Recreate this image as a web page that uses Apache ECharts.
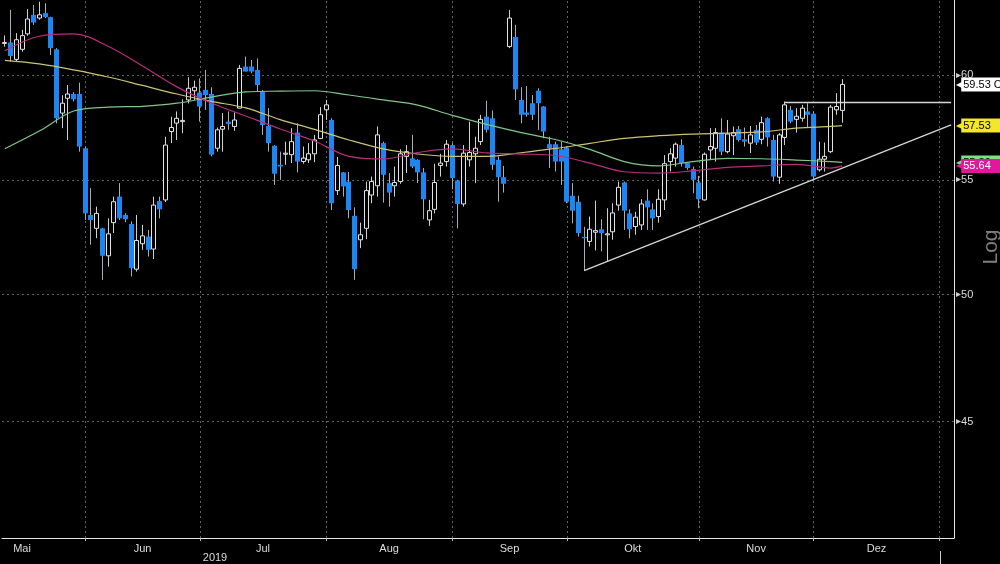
<!DOCTYPE html>
<html><head><meta charset="utf-8">
<script src="https://cdn.jsdelivr.net/npm/echarts@6/dist/echarts.min.js"></script>
<style>html,body{margin:0;padding:0;background:#000}#c{width:1000px;height:564px}</style>
</head><body><div id="c"></div>
<script>
// ---- calendar (US trading days, future slots = weekdays) ----
const startDate = '2019-05-13';
const endDate = '2020-01-03';
const holidays = ['2019-05-27', '2019-07-04', '2019-09-02', '2019-11-28'];
const labelMonthKeys = ['2019-05', '2019-06', '2019-07', '2019-08', '2019-09', '2019-10', '2019-11', '2019-12', '2020-01'];
const monthLabels = ['Mai', 'Jun', 'Jul', 'Aug', 'Sep', 'Okt', 'Nov', 'Dez'];
const gridMonthKeys = ['2019-06', '2019-07', '2019-08', '2019-09', '2019-10', '2019-11', '2019-12', '2020-01'];
const yearLabel = '2019';

// ---- price data (daily OHLC) ----
const opens = [
61.60, 61.64, 60.78, 61.29, 62.08, 63.07, 62.90, 63.16, 62.95, 61.29,
58.13, 58.85, 59.06, 59.06, 56.46, 53.42, 52.83, 52.83, 51.64, 53.08,
54.24, 53.42, 53.02, 51.07, 52.16, 52.47, 51.93, 54.04, 54.09, 57.25,
57.65, 57.72, 58.77, 59.22, 59.13, 59.26, 59.06, 56.46, 57.36, 57.72,
57.49, 58.37, 60.42, 60.42, 60.25, 59.17, 57.51, 56.58, 55.69, 56.18,
56.16, 57.20, 55.84, 55.92, 56.20, 56.92, 58.29, 57.80, 54.51, 55.34,
54.92, 53.38, 52.33, 52.83, 54.31, 54.73, 56.70, 54.85, 54.73, 54.92,
56.08, 55.99, 55.92, 55.34, 53.20, 53.67, 55.66, 55.84, 56.61, 54.97,
53.91, 55.92, 56.20, 56.77, 57.96, 57.88, 55.92, 55.12, 61.43, 61.92,
58.77, 58.16, 58.61, 59.22, 58.45, 56.65, 56.65, 56.41, 56.49, 54.28,
54.01, 52.46, 52.26, 52.66, 52.79, 52.55, 52.68, 53.86, 54.88, 53.49,
52.91, 52.98, 54.06, 53.67, 53.35, 54.09, 55.84, 56.00, 56.61, 55.77,
55.49, 54.88, 54.09, 56.38, 56.46, 57.20, 56.30, 57.05, 57.36, 56.88,
56.70, 57.33, 56.88, 57.88, 56.85, 55.12, 56.97, 58.29, 57.83, 57.88,
58.21, 58.10, 55.46, 55.95, 56.30, 58.29, 58.26];
const closes = [
61.64, 60.95, 61.78, 61.99, 62.85, 62.67, 63.07, 62.95, 61.35, 57.88,
58.61, 59.06, 58.80, 56.54, 53.49, 53.20, 53.49, 51.64, 52.59, 54.01,
53.27, 53.23, 51.11, 52.30, 52.50, 51.90, 53.86, 53.67, 56.61, 57.44,
57.88, 57.78, 59.34, 59.39, 58.45, 59.01, 56.16, 57.33, 57.49, 57.61,
57.80, 60.33, 60.17, 60.17, 59.50, 57.56, 56.70, 55.28, 55.61, 56.23,
56.77, 55.84, 56.00, 56.20, 56.85, 58.05, 58.53, 53.94, 55.66, 54.70,
53.64, 51.07, 52.55, 54.51, 54.92, 57.09, 55.23, 54.42, 54.88, 56.20,
56.30, 55.61, 55.34, 54.12, 53.61, 54.88, 55.77, 56.65, 55.08, 53.91,
56.23, 56.26, 56.46, 57.83, 57.33, 55.69, 55.12, 54.82, 62.90, 59.29,
58.05, 58.05, 58.05, 58.61, 57.25, 56.46, 55.84, 55.84, 54.01, 53.61,
52.62, 52.42, 52.79, 52.73, 52.62, 52.59, 53.51, 54.66, 53.61, 52.79,
53.32, 53.91, 53.76, 53.27, 54.12, 55.74, 56.20, 56.65, 55.77, 55.54,
55.00, 54.12, 56.18, 56.54, 57.20, 56.30, 57.13, 57.20, 56.85, 56.77,
57.09, 56.73, 57.67, 56.97, 55.15, 57.09, 58.53, 57.72, 57.98, 58.37,
58.05, 55.15, 55.95, 56.08, 58.42, 58.45, 59.53];
const lows = [
61.42, 60.66, 60.66, 61.17, 61.99, 62.55, 62.81, 62.90, 61.00, 57.64,
57.41, 56.85, 58.70, 56.30, 53.20, 52.12, 52.40, 50.62, 51.18, 52.62,
53.20, 53.10, 50.76, 50.97, 51.90, 51.61, 51.50, 53.27, 54.00, 56.70,
56.85, 57.17, 58.60, 58.77, 57.72, 58.29, 56.08, 56.30, 56.30, 57.33,
57.28, 58.37, 60.17, 60.08, 59.17, 57.09, 56.30, 54.77, 55.00, 55.69,
55.77, 55.34, 55.74, 55.77, 55.81, 56.89, 57.80, 53.64, 54.31, 54.24,
53.27, 50.62, 51.97, 52.36, 53.94, 54.24, 53.97, 53.79, 54.24, 54.82,
55.31, 55.54, 54.85, 53.23, 52.94, 53.49, 55.15, 55.61, 54.57, 52.83,
53.79, 55.61, 54.85, 56.61, 57.20, 55.46, 54.01, 54.42, 61.35, 58.77,
57.64, 57.96, 57.80, 57.33, 56.93, 55.54, 55.38, 54.77, 53.94, 53.05,
52.47, 51.01, 52.04, 51.87, 51.83, 51.40, 52.33, 53.61, 52.76, 52.40,
52.55, 52.76, 52.76, 52.76, 53.08, 53.64, 55.38, 55.61, 55.61, 55.46,
54.39, 53.72, 54.06, 55.92, 55.84, 56.14, 56.22, 56.14, 56.77, 56.54,
56.23, 56.61, 56.65, 56.54, 54.92, 54.82, 56.61, 57.64, 57.20, 57.72,
57.41, 55.00, 55.38, 55.38, 56.23, 58.05, 57.67];
const highs = [
62.00, 63.33, 62.12, 62.29, 63.37, 63.59, 63.76, 63.68, 62.97, 61.35,
59.00, 59.50, 59.15, 59.62, 56.54, 54.62, 53.79, 52.85, 53.27, 54.24,
54.85, 53.50, 53.13, 53.42, 52.98, 52.76, 54.24, 54.24, 57.00, 57.96,
58.21, 58.80, 59.89, 59.72, 59.83, 60.25, 59.39, 57.44, 58.13, 58.21,
58.16, 60.50, 60.92, 60.75, 60.83, 59.26, 58.37, 56.60, 56.30, 56.77,
57.41, 57.64, 56.54, 56.70, 57.09, 58.42, 58.77, 57.88, 56.05, 55.36,
55.36, 53.76, 53.08, 54.92, 55.15, 57.49, 56.77, 55.31, 55.61, 56.41,
56.61, 57.09, 55.95, 55.54, 54.09, 55.74, 56.20, 56.85, 56.70, 55.00,
56.61, 57.72, 57.00, 58.05, 58.73, 58.26, 56.08, 55.64, 63.33, 62.55,
59.39, 59.45, 59.01, 59.34, 58.47, 57.00, 56.77, 56.77, 56.54, 54.85,
54.28, 52.90, 53.35, 54.06, 53.23, 53.72, 53.94, 54.92, 54.92, 53.67,
53.56, 54.12, 54.57, 53.94, 54.57, 56.14, 56.46, 56.73, 56.88, 55.80,
55.61, 55.18, 56.26, 57.41, 57.41, 57.88, 57.80, 57.49, 57.51, 57.44,
57.51, 57.56, 57.96, 57.93, 57.09, 57.17, 58.69, 58.47, 58.37, 58.53,
58.61, 58.21, 56.77, 56.73, 58.53, 59.10, 59.79];

// ---- moving averages, read at these slots ----
const maSlots = [0, 6, 12, 18, 24, 30, 36, 42, 48, 54, 60, 66, 72, 78, 84, 90, 96, 102, 108, 114, 120, 126, 132, 138, 144, 146];
const maMagenta = [61.22, 61.96, 62.08, 61.45, 60.45, 59.41, 58.62, 57.99, 57.37, 56.80, 56.08, 55.96, 56.26, 56.43, 56.24, 56.19, 56.12, 55.77, 55.37, 55.31, 55.41, 55.57, 55.64, 55.71, 55.54, 55.64];
const maYellow = [60.73, 60.55, 60.25, 59.90, 59.48, 59.06, 58.70, 58.38, 57.82, 57.35, 56.85, 56.43, 56.19, 56.08, 56.08, 56.25, 56.45, 56.69, 56.92, 57.05, 57.13, 57.17, 57.23, 57.41, 57.49, 57.53];
const maGreen = [56.44, 57.27, 58.23, 58.42, 58.46, 58.61, 58.91, 59.16, 59.20, 59.22, 59.01, 58.77, 58.52, 58.02, 57.59, 57.20, 56.87, 56.41, 55.84, 55.64, 55.84, 55.99, 55.97, 55.91, 55.84, 55.80];

// ---- annotations ----
const yTicks = [45, 50, 55, 60];
const trendStart = [101, 51.01];
const trendEnd = [165, 57.57];
const resistStart = [136, 58.64];
const resistEnd = [165, 58.64];
const lastClose = 59.53;
const lastYellow = 57.53;
const lastMagenta = 55.64;
const lastGreen = 55.80;
const yMin = 40.86, yMax = 63.85;

// ---- build categories ----
const DAY = 86400000;
const toD = s => new Date(s + 'T00:00:00Z');
const fmt = d => d.toISOString().slice(0, 10);
const isTrading = d => { const w = d.getUTCDay(); return w !== 0 && w !== 6 && !holidays.includes(fmt(d)); };
const startUTC = toD(startDate), endUTC = toD(endDate);
const categories = [];
for (let t = startUTC.getTime(); t <= endUTC.getTime(); t += DAY) { const d = new Date(t); if (isTrading(d)) categories.push(fmt(d)); }
function slotOf(d) {
  let n = 0;
  if (d >= startUTC) { for (let t = startUTC.getTime(); t < d.getTime(); t += DAY) if (isTrading(new Date(t))) n++; return n; }
  for (let t = d.getTime(); t < startUTC.getTime(); t += DAY) if (isTrading(new Date(t))) n++; return -n;
}
function firstTrading(ym) { let d = toD(ym + '-01'); while (!isTrading(d)) d = new Date(d.getTime() + DAY); return d; }
const monthStartSlots = gridMonthKeys.map(k => slotOf(firstTrading(k)));
const tickSet = new Set(monthStartSlots);
const labelMap = new Map();
for (let m = 0; m < monthLabels.length; m++) {
  const a = slotOf(firstTrading(labelMonthKeys[m])), b = slotOf(firstTrading(labelMonthKeys[m + 1]));
  const mid = (a + b) / 2;
  labelMap.set(Math.floor(mid), { text: monthLabels[m], half: mid !== Math.floor(mid) });
}
const candleData = opens.map((o, i) => [i, o, closes[i], lows[i], highs[i]]);
const pair = arr => maSlots.map((s, i) => [s, arr[i]]);

const FONT = 'Liberation Sans';
const chart = echarts.init(document.getElementById('c'), null, { renderer: 'canvas' });

function tag(value, text, bg, fg) {
  return {
    yAxis: value,
    lineStyle: { color: 'transparent', width: 0 },
    label: {
      show: true, position: 'end', distance: 2,
      formatter: '{p|◀}{t|' + text + '}',
      rich: {
        p: { color: bg, fontSize: 12, fontFamily: 'DejaVu Sans', padding: [0, -4, 0, 0] },
        t: { backgroundColor: bg, color: fg, fontSize: 11, fontFamily: FONT, padding: [2, 20, 1, 2] }
      }
    }
  };
}

chart.setOption({
  backgroundColor: '#000',
  animation: false,
  grid: { left: 2, right: 46, top: 0, bottom: 26, containLabel: false },
  xAxis: {
    type: 'category', data: categories, boundaryGap: true,
    axisLine: { show: true, lineStyle: { color: '#e6e6e6', width: 1 } },
    axisTick: { show: true, alignWithLabel: true, interval: i => tickSet.has(i), length: 3, lineStyle: { color: '#bbb' } },
    axisLabel: {
      interval: i => labelMap.has(i), color: '#dcdcdc', fontSize: 11, fontFamily: FONT, margin: 5,
      formatter: (v, i) => { const l = labelMap.get(i); if (!l) return ''; return l.half ? '{h|' + l.text + '}' : l.text; },
      rich: { h: { padding: [0, 0, 0, 5.7], color: '#dcdcdc', fontSize: 11, fontFamily: FONT } }
    },
    splitLine: { show: false }
  },
  yAxis: {
    type: 'log', logBase: 10, position: 'right', min: yMin, max: yMax, scale: true,
    axisLine: { show: true, lineStyle: { color: '#e6e6e6', width: 1 } },
    axisTick: { show: false }, axisLabel: { show: false }, splitLine: { show: false }
  },
  series: [
    {
      type: 'line', data: [], silent: true, z: 1,
      markLine: {
        silent: true, z: 1, symbol: ['none', 'none'], animation: false,
        lineStyle: { type: [2, 3], color: '#636363', width: 1 },
        label: { show: false },
        data: [
          ...yTicks.map(v => ({ yAxis: v, label: { show: true, position: 'end', distance: 2, formatter: '{a|▸}{b|' + v + '}', color: '#dcdcdc', rich: { a: { color: '#cfcfcf', fontSize: 10, fontFamily: 'DejaVu Sans' }, b: { color: '#dcdcdc', fontSize: 11, fontFamily: FONT } } } })),
          ...monthStartSlots.filter(s => s < categories.length).map(s => ({ xAxis: categories[s] }))
        ]
      }
    },
    {
      type: 'custom', z: 2, clip: true,
      data: candleData,
      encode: { x: 0, y: [1, 2, 3, 4] },
      renderItem: (params, api) => {
        const i = api.value(0), o = api.value(1), c = api.value(2), l = api.value(3), h = api.value(4);
        const pO = api.coord([i, o]), pC = api.coord([i, c]), pL = api.coord([i, l]), pH = api.coord([i, h]);
        const x = Math.round(pO[0] - 0.5);
        const top = Math.min(pO[1], pC[1]), bot = Math.max(pO[1], pC[1]);
        const up = c >= o;
        const wick = { type: 'line', shape: { x1: x + 0.5, y1: pH[1], x2: x + 0.5, y2: pL[1] }, style: { stroke: up ? '#d0d0d0' : '#a8aeb8', lineWidth: 1 } };
        const body = up
          ? { type: 'rect', shape: { x: x - 1.5, y: top, width: 4, height: Math.max(bot - top, 1) }, style: { fill: '#000', stroke: '#e4e4e4', lineWidth: 1 } }
          : { type: 'rect', shape: { x: x - 2, y: top, width: 5, height: Math.max(bot - top, 1.5) }, style: { fill: '#1e86f0' } };
        return { type: 'group', children: [wick, body] };
      }
    },
    {
      type: 'line', data: pair(maGreen), smooth: 0.35, showSymbol: false, silent: true, z: 3,
      lineStyle: { color: '#80c68a', width: 1.2 },
      markLine: { silent: true, symbol: ['none', 'none'], z: 6, data: [tag(lastGreen, lastGreen.toFixed(2), '#7fe07f', '#000')] }
    },
    {
      type: 'line', data: pair(maYellow), smooth: 0.35, showSymbol: false, silent: true, z: 3,
      lineStyle: { color: '#cbc375', width: 1.2 },
      markLine: { silent: true, symbol: ['none', 'none'], z: 6, data: [tag(lastYellow, lastYellow.toFixed(2), '#f4e62a', '#000')] }
    },
    {
      type: 'line', data: pair(maMagenta), smooth: 0.35, showSymbol: false, silent: true, z: 3,
      lineStyle: { color: '#b92e7c', width: 1.2 },
      markLine: { silent: true, symbol: ['none', 'none'], z: 7, data: [tag(lastMagenta, lastMagenta.toFixed(2), '#e2189c', '#fff')] }
    },
    {
      type: 'line', data: [], silent: true, z: 4,
      markLine: {
        silent: true, symbol: ['none', 'none'], z: 4,
        lineStyle: { type: 'solid', color: '#d6d6d6', width: 1.3 },
        label: { show: false },
        data: [
          [{ coord: [trendStart[0], trendStart[1]] }, { coord: [trendEnd[0], trendEnd[1]] }],
          [{ coord: [resistStart[0], resistStart[1]] }, { coord: [resistEnd[0], resistEnd[1]] }],
          tag(lastClose, lastClose.toFixed(2) + ' CL', '#ffffff', '#000')
        ]
      }
    }
  ],
  graphic: [
    { type: 'text', x: 215, y: 558, style: { text: yearLabel, fill: '#dcdcdc', font: '11px ' + FONT, align: 'center', verticalAlign: 'middle' } },
    { type: 'line', shape: { x1: 940.5, y1: 551, x2: 940.5, y2: 564 }, style: { stroke: '#cfcfcf', lineWidth: 1 } },
    { type: 'text', x: 991, y: 247, rotation: Math.PI / 2, style: { text: 'Log', fill: '#7e7e7e', font: '21px ' + FONT, align: 'center', verticalAlign: 'middle' } }
  ]
});
</script></body></html>
